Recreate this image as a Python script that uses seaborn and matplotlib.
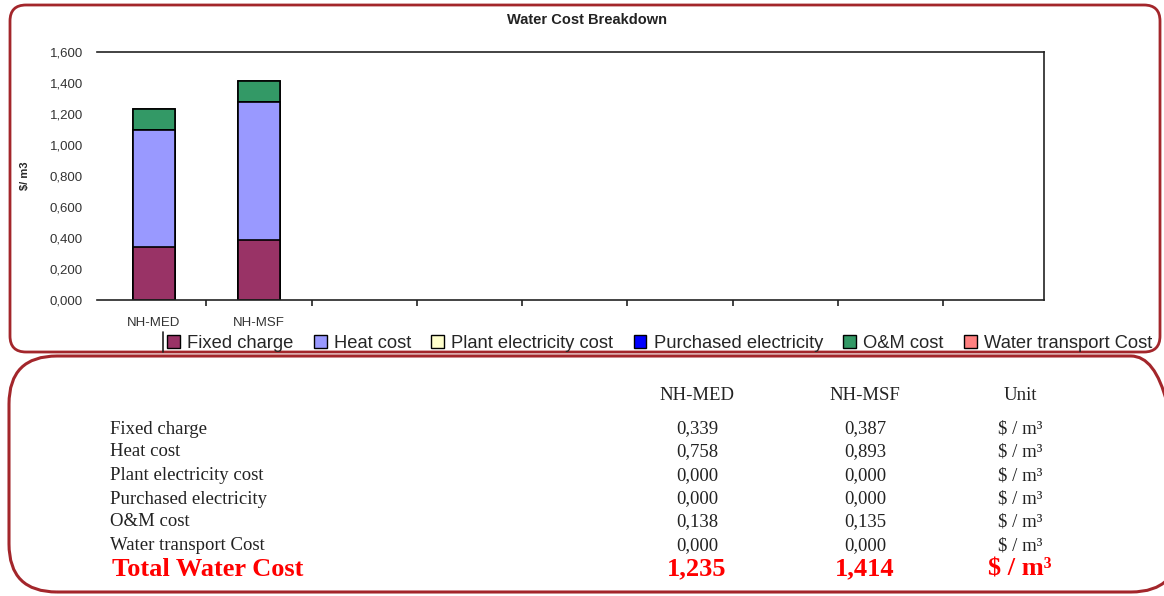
import matplotlib
matplotlib.use("Agg")
import matplotlib.pyplot as plt
from matplotlib.patches import FancyBboxPatch, Patch
from matplotlib.lines import Line2D
from matplotlib.transforms import IdentityTransform
from matplotlib.ticker import FuncFormatter, FixedLocator
import numpy as np
import pandas as pd
import seaborn as sns

# ---- data -----------------------------------------------------------------
plants = ["NH-MED", "NH-MSF"]
n_slots = 9  # category slots on the x axis (only the first two are used)
components = ["Fixed charge", "Heat cost", "Plant electricity cost",
              "Purchased electricity", "O&M cost", "Water transport Cost"]
med_costs = [0.339, 0.758, 0.000, 0.000, 0.138, 0.000]
msf_costs = [0.387, 0.893, 0.000, 0.000, 0.135, 0.000]
totals = [1.235, 1.414]
table_values = [["0,339", "0,387"], ["0,758", "0,893"], ["0,000", "0,000"],
                ["0,000", "0,000"], ["0,138", "0,135"], ["0,000", "0,000"]]
total_labels = ["1,235", "1,414"]
unit_label = "$ / m³"
y_ticks = [0.0, 0.2, 0.4, 0.6, 0.8, 1.0, 1.2, 1.4, 1.6]

colors = ["#993366", "#9999FF", "#FFFFCC", "#0000FF", "#339966", "#FF8080"]
frame_red = "#A3262B"

# ---- figure ---------------------------------------------------------------
sns.set_style("white")
plt.rcParams["font.family"] = ["Liberation Sans", "DejaVu Sans"]
W, H = 1164, 596
fig = plt.figure(figsize=(W / 100, H / 100), dpi=100)
fig.patch.set_facecolor("white")

slot_names = plants + [f"slot{i}" for i in range(len(plants), n_slots)]
df = pd.DataFrame({c: [m, s] for c, m, s in zip(components, med_costs, msf_costs)},
                  index=plants)
cum = df.cumsum(axis=1)

ax = fig.add_axes([97 / W, 1 - 300 / H, (1044 - 97) / W, (300 - 52) / H])

# stacked bars: draw cumulative heights from the top layer down
for comp, col in reversed(list(zip(components, colors))):
    d = pd.DataFrame({"plant": plants, "value": cum[comp].values})
    sns.barplot(data=d, x="plant", y="value", order=slot_names, color=col,
                width=0.4, edgecolor="black", linewidth=1.2, saturation=1,
                ax=ax, errorbar=None)

ax.set_xlim(-0.54, n_slots - 0.54)
ax.set_ylim(0, 1.6)
ax.set_xlabel("")
ax.set_ylabel("$/ m3", fontsize=8, fontweight="bold", labelpad=14)
ax.yaxis.label.set_parse_math(False)

ax.set_yticks(y_ticks)
ax.yaxis.set_major_formatter(FuncFormatter(lambda v, p: f"{v:.3f}".replace(".", ",")))
ax.tick_params(axis="y", labelsize=9.5, colors="#333333", length=0, pad=10)

ax.set_xticks(range(len(plants)))
ax.set_xticklabels(plants)
ax.xaxis.set_minor_locator(FixedLocator(np.arange(0.5, n_slots - 1, 1.0)))
ax.tick_params(axis="x", which="major", length=0, labelsize=9.5, pad=12,
               labelcolor="#333333")
ax.tick_params(axis="x", which="minor", length=4, width=1.2, color="#222222",
               direction="out", bottom=True)

for side in ["top", "right", "bottom"]:
    ax.spines[side].set_visible(True)
    ax.spines[side].set_color("#222222")
    ax.spines[side].set_linewidth(1.2)
ax.spines["left"].set_visible(False)

fig.text(587 / W, 1 - 20 / H, "Water Cost Breakdown", ha="center", va="center",
         fontsize=10.5, fontweight="bold", color="#222222")

# legend across the bottom of the chart panel
handles = [Patch(facecolor=c, edgecolor="black", linewidth=1.0, label=l)
           for c, l in zip(colors, components)]
fig.legend(handles=handles, loc="center left", bbox_to_anchor=(167 / W, 1 - 343 / H),
           ncol=6, frameon=False, fontsize=13.2, handlelength=0.7, handleheight=0.7,
           handletextpad=0.4, columnspacing=1.1, borderpad=0, borderaxespad=0)
fig.add_artist(Line2D([163 / W, 163 / W], [1 - 352 / H, 1 - 332 / H],
                      color="#222222", lw=1.2, transform=fig.transFigure))

# rounded frames around the chart and the table
fig.add_artist(FancyBboxPatch((10, H - 352), 1150, 347,
                              boxstyle="round,pad=0,rounding_size=16",
                              fill=False, edgecolor=frame_red, linewidth=2,
                              transform=IdentityTransform()))
fig.add_artist(FancyBboxPatch((9, H - 592), 1170, 236,
                              boxstyle="round,pad=0,rounding_size=48",
                              fill=False, edgecolor=frame_red, linewidth=2.2,
                              transform=IdentityTransform()))

# cost table
serif = ["Liberation Serif", "DejaVu Serif"]
col_x = [697, 865]
unit_x = 1020
for label, x in zip(plants + ["Unit"], col_x + [unit_x]):
    fig.text(x / W, 1 - 395 / H, label, ha="center", va="center",
             fontsize=13.5, family=serif, color="#222222")

row_y = [429, 452, 476, 499, 522, 546]
for name, vals, y in zip(components, table_values, row_y):
    fig.text(110 / W, 1 - y / H, name, ha="left", va="center", fontsize=13.5,
             family=serif, color="#222222")
    for v, x in zip(vals, col_x):
        fig.text(x / W, 1 - y / H, v, ha="center", va="center", fontsize=13.5,
                 family=serif, color="#222222")
    fig.text(unit_x / W, 1 - y / H, unit_label, ha="center", va="center",
             fontsize=13.5, family=serif, color="#222222", parse_math=False)

total_y = 569
fig.text(112 / W, 1 - total_y / H, "Total Water Cost", ha="left", va="center",
         fontsize=19, fontweight="bold", family=serif, color="#FF0000")
for v, x in zip(total_labels, col_x):
    fig.text(x / W, 1 - total_y / H, v, ha="center", va="center", fontsize=19,
             fontweight="bold", family=serif, color="#FF0000")
fig.text(unit_x / W, 1 - total_y / H, unit_label, ha="center", va="center",
         fontsize=19, fontweight="bold", family=serif, color="#FF0000",
         parse_math=False)

fig.savefig("out.png", dpi=100, facecolor="white")
